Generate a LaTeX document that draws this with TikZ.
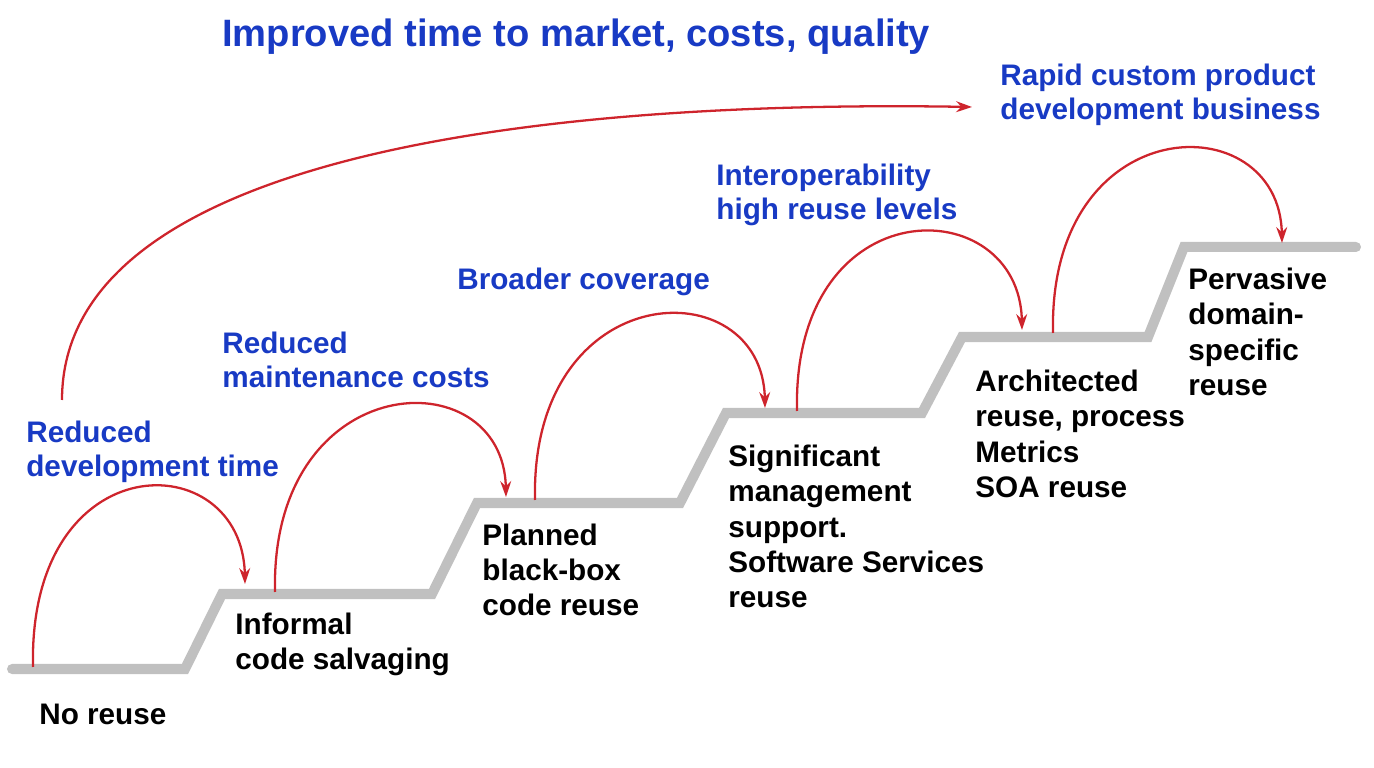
\documentclass[tikz,border=0pt]{standalone}
\usepackage{fontspec}
\setmainfont{Liberation Sans}
\usepackage{xcolor}
\usepackage{tikz}
\usetikzlibrary{arrows.meta, positioning, calc}

\definecolor{stairgray}{RGB}{192,192,192}
\definecolor{arcred}{RGB}{206,36,44}
\definecolor{gainblue}{RGB}{24,58,196}

\tikzset{
  stairline/.style={
    draw=stairgray, line width=5.7pt, line cap=round, line join=miter
  },
  reusearrow/.style={
    -{Stealth[length=3.2mm, width=2.2mm, inset=1.1mm]}, line width=1.3pt, color=arcred
  },
  gainlabel/.style={
    anchor=base west, inner sep=0pt, align=left, text=gainblue,
    font=\bfseries\fontsize{16.9pt}{19.9pt}\selectfont
  },
  levellabel/.style={
    anchor=base west, inner sep=0pt, align=left, text=black,
    font=\bfseries\fontsize{16.9pt}{20.2pt}\selectfont
  },
}

\begin{document}
\begin{tikzpicture}[
  headlabel/.style={anchor=base west, inner sep=0pt, text=gainblue, font=\bfseries\fontsize{21.7pt}{26pt}\selectfont},
]
  \useasboundingbox (0,0) rectangle (27.48,15.36);

  % === Staircase ===
  \draw[stairline] (0.24,1.98) -- (3.70,1.98) -- (4.44,3.48) -- (8.64,3.48)
    -- (9.54,5.30) -- (13.60,5.30) -- (14.52,7.10) -- (18.44,7.10)
    -- (19.24,8.62) -- (22.96,8.62) -- (23.68,10.42) -- (27.12,10.42);

  % === Level labels (placed at the baseline of the last line) ===
  \node[levellabel] (noreuse) at (0.78, 0.86) {No reuse};
  \node[levellabel] (informal) at (4.70, 1.96) {Informal\\code salvaging};
  \node[levellabel] (planned) at (9.64, 3.04) {Planned\\black-box\\code reuse};
  \node[levellabel] (significant) at (14.56, 3.20)
    {Significant\\management\\support.\\Software Services\\reuse};
  \node[levellabel] (architected) at (19.50, 5.40)
    {Architected\\reuse, process\\Metrics\\SOA reuse};
  \node[levellabel] (pervasive) at (23.76, 7.44) {Pervasive\\domain-\\specific\\reuse};

  % === Benefit labels ===
  \node[headlabel] (improved) at (4.44, 14.42) {Improved time to market, costs, quality};
  \node[gainlabel] (rapid) at (20.00, 12.96) {Rapid custom product\\development business};
  \node[gainlabel] (interop) at (14.32, 10.96) {Interoperability\\high reuse levels};
  \node[gainlabel] (broader) at (9.14, 9.56) {Broader coverage};
  \node[gainlabel] (redmaint) at (4.44, 7.60) {Reduced\\maintenance costs};
  \node[gainlabel] (reddev) at (0.52, 5.82) {Reduced\\development time};

  % === Arc ends ===
  \coordinate (a1s) at (0.66, 2.02);   \coordinate (a1e) at (4.90, 3.68);
  \coordinate (a2s) at (5.50, 3.52);   \coordinate (a2e) at (10.12, 5.42);
  \coordinate (a3s) at (10.70, 5.36);  \coordinate (a3e) at (15.30, 7.20);
  \coordinate (a4s) at (15.94, 7.14);  \coordinate (a4e) at (20.44, 8.76);
  \coordinate (a5s) at (21.06, 8.70);  \coordinate (a5e) at (25.64, 10.50);
  \coordinate (bigs) at (1.24, 7.36);  \coordinate (bige) at (19.44, 13.22);

  % === Arrows ===
  \draw[reusearrow] (a1s) .. controls +(-0.1,4.5) and +(-0.05,2.8) .. (a1e);
  \draw[reusearrow] (a2s) .. controls +(-0.1,4.5) and +(-0.05,2.8) .. (a2e);
  \draw[reusearrow] (a3s) .. controls +(-0.1,4.5) and +(-0.05,2.8) .. (a3e);
  \draw[reusearrow] (a4s) .. controls +(-0.1,4.5) and +(-0.05,2.8) .. (a4e);
  \draw[reusearrow] (a5s) .. controls +(-0.1,4.5) and +(-0.05,2.8) .. (a5e);
  \draw[reusearrow] (bigs) .. controls +(0,5.0) and +(-8.24,0.14) .. (bige);

\end{tikzpicture}
\end{document}
